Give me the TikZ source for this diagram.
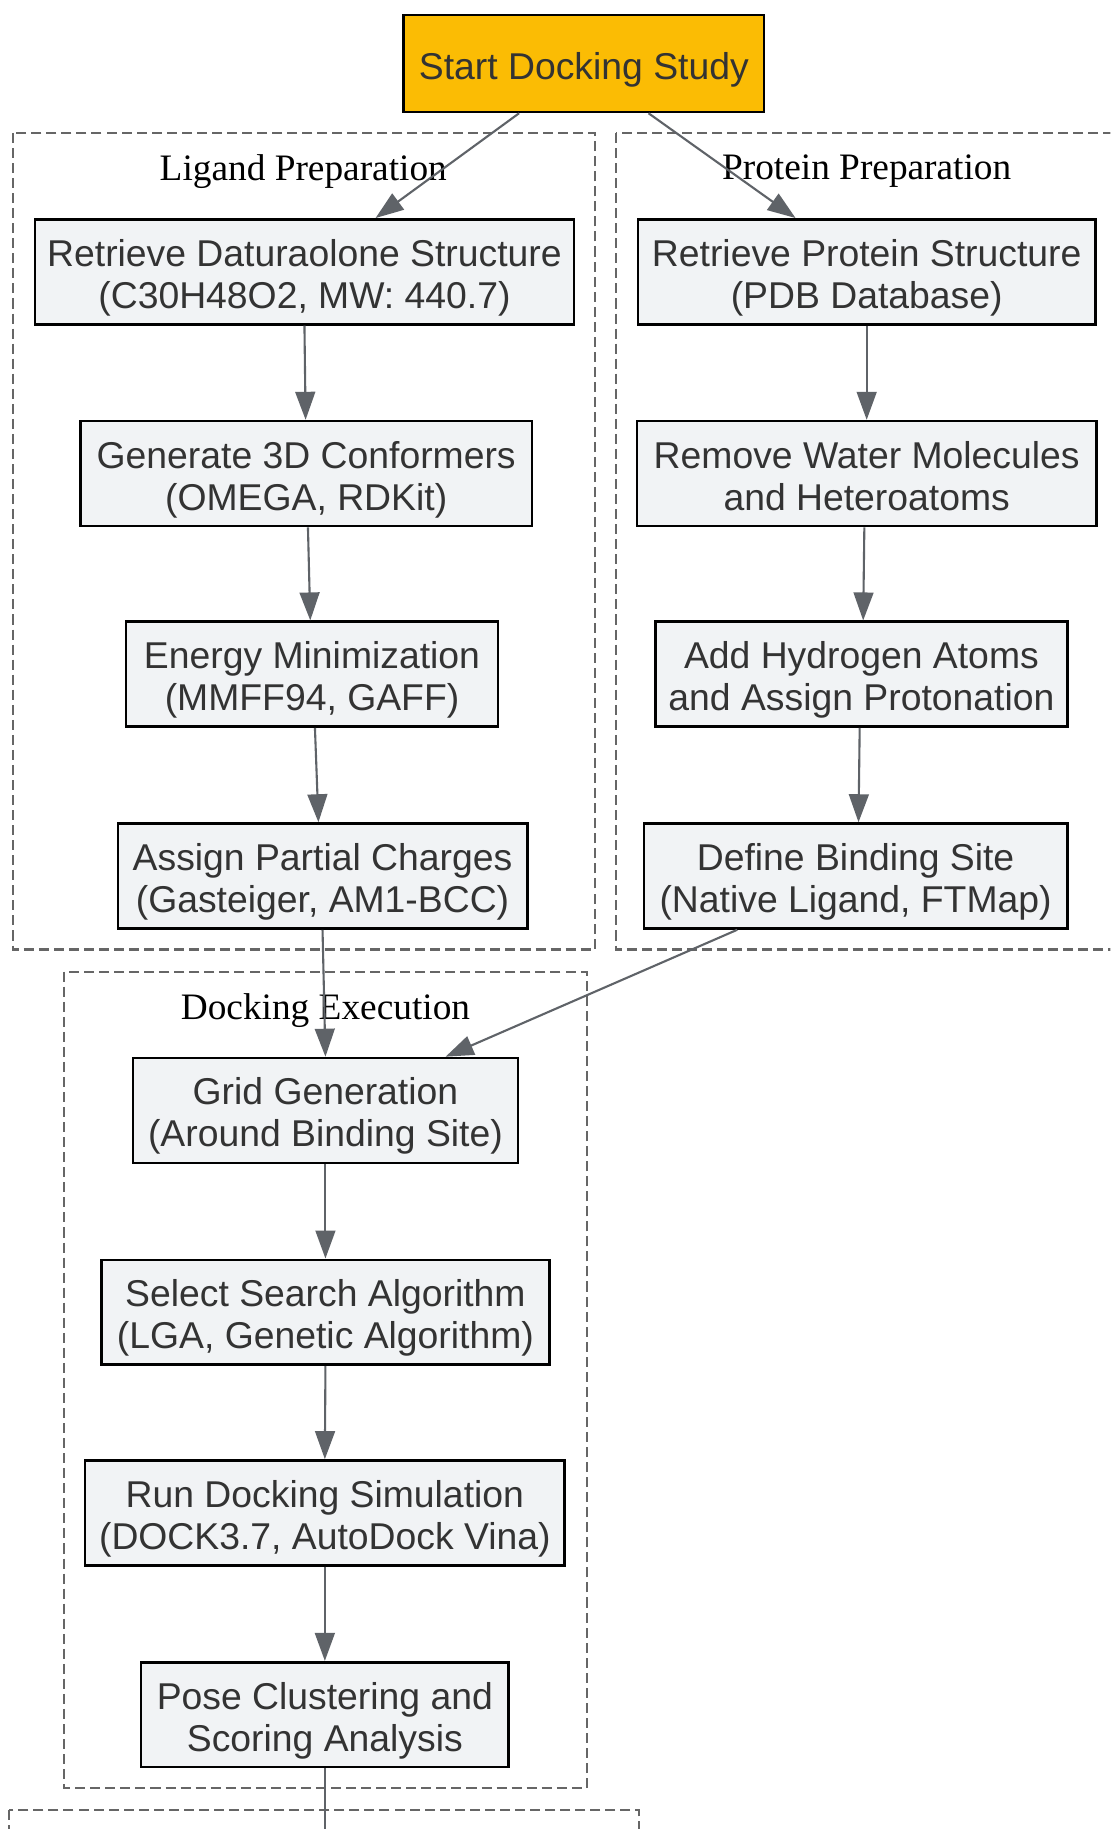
\documentclass[tikz,border=0pt]{standalone}
\usepackage{fontspec}
\setmainfont{Liberation Sans}
\newfontfamily\serifF{Liberation Serif}
\usetikzlibrary{arrows.meta}
\definecolor{boxfill}{HTML}{F1F3F5}
\definecolor{startfill}{HTML}{FBBC04}
\definecolor{txt}{HTML}{333333}
\definecolor{edgec}{HTML}{5F6368}
\definecolor{clusterc}{HTML}{666666}
\newcommand\topS{\rule{0pt}{33.5pt}}
\newcommand\botS{\rule[-7pt]{0pt}{7pt}}
\tikzset{
  stepbox/.style={draw=black, line width=2.2pt, fill=boxfill, text=txt,
    minimum height=90pt, inner sep=0pt, align=center,
    font=\fontsize{32}{36}\selectfont},
  startbox/.style={stepbox, fill=startfill, minimum height=83pt},
  cluster/.style={draw=clusterc, line width=1.9pt, dash pattern=on 8.6pt off 4.3pt},
  clabel/.style={font=\serifF\fontsize{32}{36}\selectfont, text=black, inner sep=0pt},
  flow/.style={draw=edgec, line width=1.8pt, -{Triangle[length=24pt,width=17pt]}},
  plain/.style={draw=edgec, line width=1.8pt}
}
\begin{document}
\begin{tikzpicture}[x=1pt,y=-1pt]
\clip (0,0) rectangle (952,1568);
\fill[white] (0,0) rectangle (952,1568);
% clusters
\draw[cluster] (11,114) rectangle (510,814);
\draw[cluster] (528,114) rectangle (970,814);
\draw[cluster] (55,833) rectangle (503,1533);
\draw[cluster] (8,1552) rectangle (548,1620);
\node[clabel] (lablig) at (260,147) {Ligand Preparation};
\node[clabel] (labpro) at (743,147) {Protein Preparation};
\node[clabel] (labdock) at (279,866) {Docking Execution};
% nodes
\node[startbox, minimum width=309pt] (start) at (500.5,54.5) {\topS Start Docking Study\botS};
\node[stepbox, minimum width=462pt] (d1) at (261,233) {\topS Retrieve Daturaolone Structure\\(C30H48O2, MW: 440.7)\botS};
\node[stepbox, minimum width=387pt] (d2) at (262.5,406) {\topS Generate 3D Conformers\\(OMEGA, RDKit)\botS};
\node[stepbox, minimum width=319pt] (d3) at (267.5,578) {\topS Energy Minimization\\(MMFF94, GAFF)\botS};
\node[stepbox, minimum width=351pt] (d4) at (276.5,751) {\topS Assign Partial Charges\\(Gasteiger, AM1-BCC)\botS};
\node[stepbox, minimum width=392pt] (p1) at (743,233) {\topS Retrieve Protein Structure\\(PDB Database)\botS};
\node[stepbox, minimum width=394pt] (p2) at (743,406) {\topS Remove Water Molecules\\and Heteroatoms\botS};
\node[stepbox, minimum width=353pt] (p3) at (738.5,578) {\topS Add Hydrogen Atoms\\and Assign Protonation\botS};
\node[stepbox, minimum width=363pt] (p4) at (733.5,751) {\topS Define Binding Site\\(Native Ligand, FTMap)\botS};
\node[stepbox, minimum width=330pt] (g1) at (279,952) {\topS Grid Generation\\(Around Binding Site)\botS};
\node[stepbox, minimum width=384pt] (g2) at (279,1125) {\topS Select Search Algorithm\\(LGA, Genetic Algorithm)\botS};
\node[stepbox, minimum width=411pt] (g3) at (278.5,1297) {\topS Run Docking Simulation\\(DOCK3.7, AutoDock Vina)\botS};
\node[stepbox, minimum width=315pt] (g4) at (278.5,1470) {\topS Pose Clustering and\\Scoring Analysis\botS};
\coordinate (bend) at (278.5,1600);
% edges
\draw[flow] ([xshift=-55.5pt]start.south) -- ([xshift=61pt]d1.north);
\draw[flow] ([xshift=55.5pt]start.south) -- ([xshift=-61pt]p1.north);
\draw[flow] (d1.south) -- ([xshift=-0.5pt]d2.north);
\draw[flow] ([xshift=1.5pt]d2.south) -- ([xshift=-1.5pt]d3.north);
\draw[flow] ([xshift=2.5pt]d3.south) -- ([xshift=-3.5pt]d4.north);
\draw[flow] (d4.south) -- (g1.north);
\draw[flow] (p1.south) -- (p2.north);
\draw[flow] ([xshift=-2pt]p2.south) -- ([xshift=1.5pt]p3.north);
\draw[flow] ([xshift=-1.5pt]p3.south) -- ([xshift=2.5pt]p4.north);
\draw[flow] ([xshift=-101.5pt]p4.south) -- ([xshift=103pt]g1.north);
\draw[flow] (g1.south) -- (g2.north);
\draw[flow] (g2.south) -- (g3.north);
\draw[flow] (g3.south) -- (g4.north);
\draw[plain] (g4.south) -- (bend);
\end{tikzpicture}
\end{document}
